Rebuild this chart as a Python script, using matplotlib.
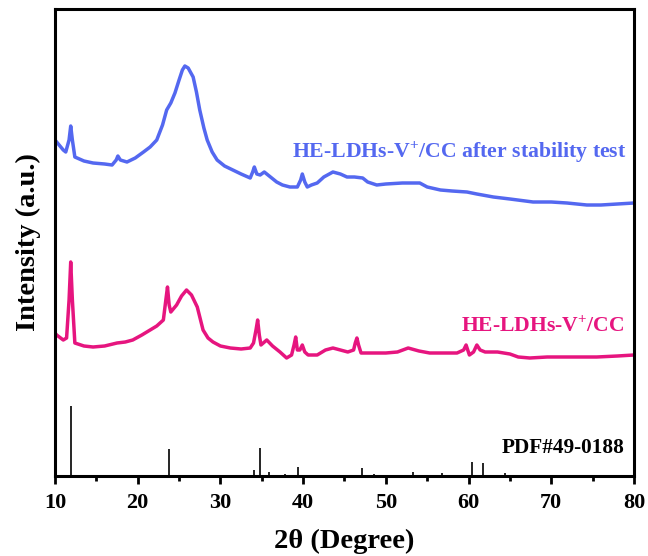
import matplotlib
matplotlib.use("Agg")
import matplotlib.pyplot as plt
from matplotlib.ticker import MultipleLocator

plt.rcParams['font.family'] = ['Liberation Serif', 'DejaVu Serif']
plt.rcParams['font.weight'] = 'bold'
plt.rcParams['mathtext.fontset'] = 'custom'
plt.rcParams['mathtext.rm'] = 'Liberation Serif:bold'
plt.rcParams['mathtext.bf'] = 'Liberation Serif:bold'

# After stability test (blue), arbitrary intensity units
blue_x = [10.2, 11.0, 11.3, 11.7, 11.9, 12.1, 12.4, 13.5, 14.6, 16.0, 16.9, 17.4, 17.6, 17.9,
          18.7, 19.7, 20.7, 21.5, 22.3, 23.0, 23.5, 24.0, 24.5, 25.0, 25.4, 25.7, 26.1, 26.7,
          27.1, 27.5, 28.0, 28.4, 29.0, 29.6, 30.5, 31.5, 32.5, 33.6, 33.9, 34.1, 34.4, 34.8,
          35.3, 35.6, 36.2, 36.8, 37.5, 38.4, 39.3, 39.7, 39.9, 40.2, 40.5, 41.0, 41.7, 42.5,
          43.6, 44.5, 45.3, 46.2, 47.2, 47.8, 48.9, 50.0, 52.0, 54.1, 55.0, 56.6, 58.0, 59.8,
          61.0, 63.0, 65.0, 67.8, 70.0, 71.9, 74.3, 76.0, 78.0, 80.0]
blue_py = [142, 150, 152, 140, 126, 140, 157, 161, 163, 164, 165, 160, 156, 160,
           162, 158, 152, 147, 140, 125, 110, 103, 93, 80, 70, 66, 68, 77,
           92, 110, 128, 140, 152, 160, 166, 170, 174, 178, 172, 167, 174, 175,
           172, 174, 178, 182, 185, 187, 187, 180, 174, 182, 187, 185, 183, 177,
           172, 174, 177, 177, 178, 182, 185, 184, 183, 183, 187, 190, 191, 192,
           194, 197, 199, 202, 202, 203, 205, 205, 204, 203]

# Pristine HE-LDHs-V+/CC (pink)
pink_x = [10.0, 10.2, 11.0, 11.4, 11.7, 11.9, 12.1, 12.4, 13.5, 14.6, 16.0, 17.5, 18.5, 19.4,
          20.5, 21.5, 22.3, 23.1, 23.4, 23.6, 23.8, 24.0, 24.7, 25.3, 25.9, 26.5, 27.2, 27.9,
          28.5, 29.1, 30.0, 31.2, 32.5, 33.6, 34.0, 34.3, 34.5, 34.7, 34.9, 35.6, 36.3, 37.2,
          38.0, 38.6, 38.9, 39.1, 39.3, 39.6, 39.9, 40.2, 40.6, 41.7, 42.7, 43.6, 44.5, 45.4,
          46.1, 46.3, 46.5, 46.7, 47.0, 48.5, 50.0, 51.4, 52.7, 54.0, 55.3, 57.0, 58.6, 59.4,
          59.7, 60.1, 60.6, 61.0, 61.4, 62.0, 63.5, 65.0, 66.0, 67.4, 69.5, 71.4, 73.5,
          75.5, 78.0, 80.0]
pink_py = [333, 335, 340, 338, 300, 262, 300, 343, 346, 347, 346, 343, 342, 340,
           335, 330, 326, 320, 300, 287, 305, 312, 305, 296, 290, 295, 307, 330,
           338, 342, 346, 348, 349, 348, 343, 330, 320, 335, 345, 340, 346, 352,
           358, 355, 345, 337, 350, 350, 345, 352, 355, 355, 350, 348, 350, 352,
           350, 343, 338, 345, 353, 353, 353, 352, 348, 351, 353, 353, 353, 350,
           345, 355, 352, 345, 350, 352, 352, 354, 357, 358, 357, 357, 357,
           357, 356, 355]

# Reference PDF#49-0188 sticks
ref_x = [11.9, 23.8, 34.1, 34.8, 35.9, 37.8, 39.4, 47.1, 48.6, 50.1, 53.3, 56.8, 60.4, 61.8, 64.4]
ref_h = [70, 27, 6, 28, 4, 2, 9, 8, 2, 1.5, 4, 3, 14, 13, 3]

xticks = [10, 20, 30, 40, 50, 60, 70, 80]

BASE = 476
blue_y = [BASE - v for v in blue_py]
pink_y = [BASE - v for v in pink_py]

blue = '#5468F0'
pink = '#E6157F'

fig = plt.figure(figsize=(6.48, 5.56), dpi=100)
ax = fig.add_axes([55/648, 1-476/556, (634-55)/648, (476-9)/556])

ax.plot(blue_x, blue_y, color=blue, lw=2.5, solid_joinstyle='round')
ax.plot(pink_x, pink_y, color=pink, lw=2.5, solid_joinstyle='round')
ax.vlines(ref_x, 0, ref_h, color='black', lw=1.2)

ax.set_xlim(10, 80)
ax.set_ylim(0, 467)
ax.set_yticks([])
ax.set_xticks(xticks)
ax.xaxis.set_minor_locator(MultipleLocator(5))
ax.tick_params(axis='x', which='major', direction='out', length=6, width=2, labelsize=16, pad=6)
ax.tick_params(axis='x', which='minor', direction='out', length=3.5, width=2)
for lab in ax.get_xticklabels():
    lab.set_fontweight('bold')
for s in ax.spines.values():
    s.set_linewidth(2.2)

ax.set_xlabel('2θ (Degree)', fontsize=20.5, fontweight='bold', labelpad=12)
ax.set_ylabel('Intensity (a.u.)', fontsize=20.5, fontweight='bold', labelpad=10)

ax.text(79.1, 324, r'HE-LDHs-V$^{+}$/CC after stability test', color=blue,
        fontsize=15.7, fontweight='bold', ha='right', va='center')
ax.text(78.8, 149, r'HE-LDHs-V$^{+}$/CC', color=pink,
        fontsize=15.6, fontweight='bold', ha='right', va='center')
ax.text(78.8, 28, 'PDF#49-0188', color='black',
        fontsize=15.3, fontweight='bold', ha='right', va='center')

fig.savefig('out.png', dpi=100)
